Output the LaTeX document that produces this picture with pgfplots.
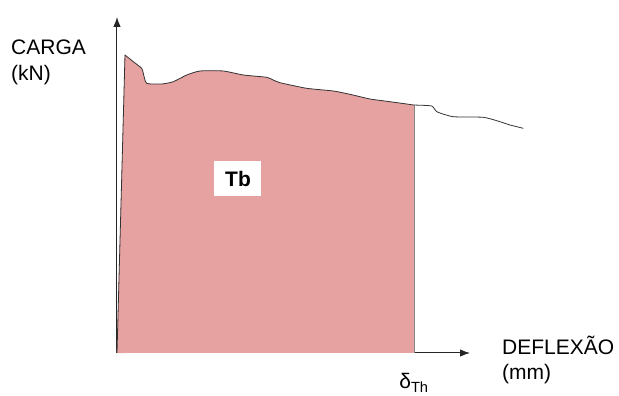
\documentclass[border=0pt]{standalone}
\usepackage{fontspec}
\setmainfont{Liberation Sans}
\usepackage{pgfplots}
\pgfplotsset{compat=1.18}
\usetikzlibrary{arrows.meta}
\definecolor{fillpink}{HTML}{E6A1A1}
\definecolor{curve}{HTML}{333333}
\begin{document}
\begin{tikzpicture}
\begin{axis}[
  scale only axis, width=353pt, height=336pt,
  xmin=0, xmax=353, ymin=0, ymax=336,
  axis lines=middle, ticks=none,
  axis line style={line width=1pt, black!85, -{Latex[length=10pt,width=7.5pt]}},
  clip=false,
  font=\fontsize{21}{25}\selectfont,
]
% left slanted part of the filled area
\addplot[fill=fillpink, draw=fillpink, line width=0.3pt] coordinates {(0,0) (8,298) (8,0)} -- cycle;
% filled area under the smooth curve
\addplot[fill=fillpink, draw=none, smooth, tension=0.35] coordinates {
(8,298) (16.3,291.3) (24.7,284.7) (26.3,279.7) (29.7,269.7) (44.7,269)
(56.3,271.3) (69.7,278) (83,282) (106.3,282) (126.3,278) (149.7,275.7)
(156.3,273) (163,270.3) (189.7,264.7) (216.3,262) (233,258.7) (253,254)
(273,251.3) (289.7,249) (297,248)} \closedcycle;
% right edge of the area
\addplot[draw=curve!60, line width=0.6pt] coordinates {(297,0) (297,248)};
% rising part of the curve
\addplot[draw=curve, line width=0.8pt] coordinates {(0,0) (8,298)};
% curve
\addplot[draw=curve, line width=0.8pt, smooth, tension=0.35] coordinates {
(8,298) (16.3,291.3) (24.7,284.7) (26.3,279.7) (29.7,269.7) (44.7,269)
(56.3,271.3) (69.7,278) (83,282) (106.3,282) (126.3,278) (149.7,275.7)
(156.3,273) (163,270.3) (189.7,264.7) (216.3,262) (233,258.7) (253,254)
(273,251.3) (289.7,249) (297,248) (314.7,247) (319.7,241.3) (336.3,236.3)
(366.3,235.7) (383,231.3) (393,228) (406.3,224.7)};
\node[fill=white, inner sep=0pt, minimum width=47pt, minimum height=35pt,
  font=\fontsize{21}{25}\selectfont\bfseries] at (axis cs:121,174.5) {Tb};
\node[anchor=base west, inner sep=0pt] at (axis cs:-106,298) {CARGA};
\node[anchor=base west, inner sep=0pt] at (axis cs:-106,272) {(kN)};
\node[anchor=base west, inner sep=0pt] at (axis cs:385,-2) {DEFLEXÃO};
\node[anchor=base west, inner sep=0pt] at (axis cs:385,-27) {(mm)};
\node[anchor=base, inner sep=0pt] at (axis cs:297,-36) {δ\textsubscript{Th}};
\coordinate (bl) at (axis cs:-117,-43);
\coordinate (tr) at (axis cs:502,353);
\end{axis}
\pgfresetboundingbox
\path[use as bounding box] (bl) rectangle (tr);
\end{tikzpicture}
\end{document}
